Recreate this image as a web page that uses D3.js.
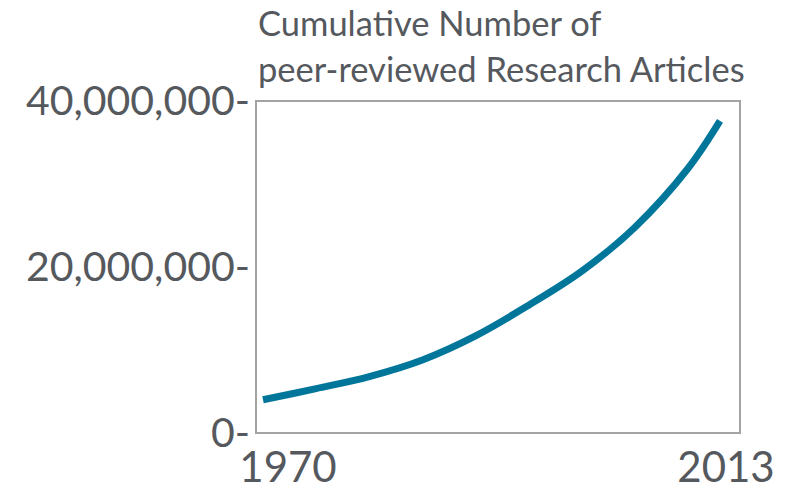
<!DOCTYPE html>
<html>
<head>
    <title>Cumulative Number of peer-reviewed Research Articles</title>
    <script src="https://d3js.org/d3.v7.min.js"></script>
    <style>
      body { margin: 0; background: #fff; }
      text { font-family: Lato, "Open Sans", sans-serif; fill: #55595e; }
    </style>
</head>
<body>
    <svg width="785" height="489"></svg>

    <script>
      // data (millions of articles, cumulative)
      const years = [1970, 1975, 1980, 1985, 1990, 1995, 2000, 2005, 2010, 2013];
      const articles = [4.0, 5.35, 6.8, 8.8, 11.7, 15.4, 19.5, 24.8, 31.9, 37.6].map(v => v * 1e6);
      const yTicks = [0, 20000000, 40000000];
      const xLabels = [1970, 2013];
      const titleLines = ["Cumulative Number of", "peer-reviewed Research Articles"];

      const svg = d3.select("svg");

      // plot box
      const box = {left: 256, right: 740, top: 101, bottom: 433};

      const x = d3.scaleLinear().domain([1970, 2013]).range([263, 720]);
      const y = d3.scaleLinear().domain([0, 40000000]).range([box.bottom, box.top]);

      svg.append("rect")
         .attr("x", box.left)
         .attr("y", box.top)
         .attr("width", box.right - box.left)
         .attr("height", box.bottom - box.top)
         .attr("fill", "none")
         .attr("stroke", "#a3a3a3")
         .attr("stroke-width", 2);

      // y axis, labels carry their own "-" tick
      const yAxis = svg.append("g")
         .attr("transform", `translate(${box.left - 6},0)`)
         .call(d3.axisLeft(y).tickValues(yTicks).tickSize(0).tickPadding(0)
               .tickFormat(d => d3.format(",")(d) + "-"));
      yAxis.select(".domain").remove();
      yAxis.selectAll("text")
         .attr("font-size", 41)
         .attr("dy", "0.34em")
         .style("font-family", "Lato, sans-serif")
         .style("fill", "#55595e");

      // x labels
      const xOffset = {1970: 25, 2013: 6};
      svg.selectAll(".xlab")
         .data(xLabels)
         .enter().append("text")
         .attr("class", "xlab")
         .attr("x", d => x(d) + xOffset[d])
         .attr("y", 482)
         .attr("text-anchor", "middle")
         .attr("font-size", 42)
         .text(d => d);

      // title
      svg.selectAll(".title")
         .data(titleLines)
         .enter().append("text")
         .attr("class", "title")
         .attr("x", 258)
         .attr("y", (d, i) => 36 + i * 46)
         .attr("font-size", 34.5)
         .text(d => d);

      // line
      const line = d3.line()
         .x(d => x(d[0]))
         .y(d => y(d[1]))
         .curve(d3.curveCatmullRom.alpha(0.5));

      svg.append("path")
         .datum(years.map((yr, i) => [yr, articles[i]]))
         .attr("fill", "none")
         .attr("stroke", "#00769a")
         .attr("stroke-width", 7)
         .attr("d", line);
    </script>
</body>
</html>
